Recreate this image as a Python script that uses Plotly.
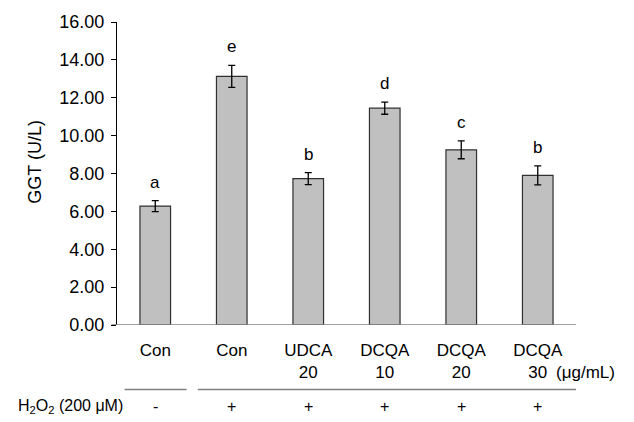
import plotly.graph_objects as go

categories = ["Con", "Con", "UDCA<br>20", "DCQA<br>10", "DCQA<br>20", "DCQA<br>30"]
values = [6.28, 13.13, 7.73, 11.45, 9.25, 7.90]
errors = [0.29, 0.58, 0.32, 0.32, 0.47, 0.50]
letters = ["a", "e", "b", "d", "c", "b"]
h2o2 = ["-", "+", "+", "+", "+", "+"]
ytick_vals = [0, 2, 4, 6, 8, 10, 12, 14, 16]
ytick_text = ["0.00", "2.00", "4.00", "6.00", "8.00", "10.00", "12.00", "14.00", "16.00"]

FONT = "Liberation Sans, Arial, sans-serif"
FS = 17
xpos = list(range(len(categories)))

fig = go.Figure()
fig.add_trace(go.Bar(
    x=xpos, y=values, width=0.4,
    marker=dict(color="#c0c0c0", line=dict(color="#303030", width=1.2)),
    error_y=dict(type="data", array=errors, visible=True, color="black", thickness=1.3, width=3.5),
    showlegend=False,
))

annotations = []
for i, (v, e, l) in enumerate(zip(values, errors, letters)):
    annotations.append(dict(x=i, y=v + e, xref="x", yref="y", text=l, showarrow=False,
                            yanchor="bottom", yshift=7, font=dict(size=FS, family=FONT, color="black")))
for i, s in enumerate(h2o2):
    annotations.append(dict(x=i, y=-0.269, xref="x", yref="paper", text=s, showarrow=False,
                            yanchor="middle", font=dict(size=FS - 1, family=FONT, color="black")))
annotations.append(dict(x=0.017, y=-0.269, xref="paper", yref="paper",
                        text="H<sub>2</sub>O<sub>2</sub> (200 μM)", showarrow=False,
                        xanchor="right", yanchor="middle", font=dict(size=FS - 1, family=FONT, color="black")))
annotations.append(dict(x=0.952, y=-0.157, xref="paper", yref="paper", text="(μg/mL)", showarrow=False,
                        xanchor="left", yanchor="middle", font=dict(size=FS, family=FONT, color="black")))
annotations.append(dict(x=-0.178, y=0.54, xref="paper", yref="paper", text="GGT (U/L)", showarrow=False,
                        textangle=-90, xanchor="center", yanchor="middle",
                        font=dict(size=FS + 1, family=FONT, color="black")))

shapes = [
    dict(type="line", xref="x", yref="paper", x0=-0.4, x1=0.41, y0=-0.213, y1=-0.213,
         line=dict(color="#808080", width=1.5)),
    dict(type="line", xref="x", yref="paper", x0=0.556, x1=5.5, y0=-0.213, y1=-0.213,
         line=dict(color="#808080", width=1.5)),
    dict(type="line", xref="paper", yref="y", x0=-0.012, x1=1, y0=0, y1=0,
         line=dict(color="#808080", width=1.5)),
]

fig.update_layout(
    width=634, height=422,
    margin=dict(l=117, r=58, t=20, b=97),
    plot_bgcolor="white", paper_bgcolor="white",
    font=dict(family=FONT, size=FS, color="black"),
    annotations=annotations, shapes=shapes,
    bargap=0.6,
)
fig.update_xaxes(
    tickvals=xpos, ticktext=categories, range=[-0.5, 5.5],
    showline=False, showgrid=False, zeroline=False, ticks="",
    tickfont=dict(size=FS, family=FONT, color="black"),
    ticklabelstandoff=13,
)
fig.update_yaxes(
    range=[0, 16], tickvals=ytick_vals, ticktext=ytick_text,
    showline=True, linecolor="black", linewidth=1.2, ticks="outside", ticklen=5,
    tickcolor="black", showgrid=False, zeroline=False,
    tickfont=dict(size=18, family=FONT, color="black"),
    ticklabelstandoff=3,
)

fig.write_html("out.html", config={"displayModeBar": False},
               post_script="document.body.style.margin='0';")
